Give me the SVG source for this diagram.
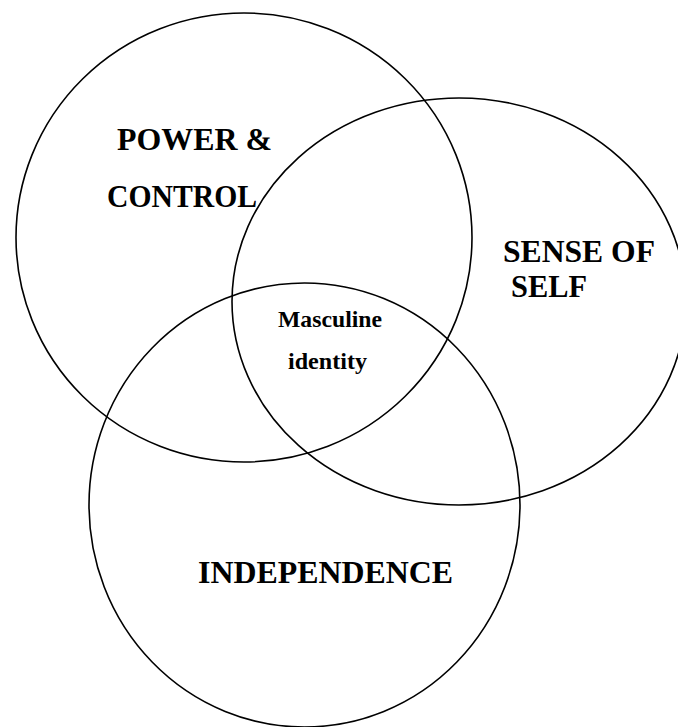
<svg xmlns="http://www.w3.org/2000/svg" width="678" height="727" viewBox="0 0 678 727">
  <style>
    .ring { fill: none; stroke: #000; stroke-width: 1.6; }
    .big { font-family: "Liberation Serif", "Times New Roman", serif; font-weight: bold; font-size: 32px; fill: #000; }
    .core { font-family: "Liberation Serif", "Times New Roman", serif; font-weight: bold; font-size: 23px; fill: #000; }
  </style>
  <rect width="678" height="727" fill="#fff"/>

  <g id="power-control">
    <ellipse class="ring" cx="244" cy="237.5" rx="228" ry="224.5"/>
    <text class="big" x="117" y="150" textLength="155" lengthAdjust="spacingAndGlyphs">POWER &amp;</text>
    <text class="big" x="107" y="207" textLength="150" lengthAdjust="spacingAndGlyphs">CONTROL</text>
  </g>

  <g id="sense-of-self">
    <ellipse class="ring" cx="459" cy="301.5" rx="227" ry="203.5"/>
    <text class="big" x="503" y="262" textLength="152" lengthAdjust="spacingAndGlyphs">SENSE OF</text>
    <text class="big" x="511" y="297" textLength="76" lengthAdjust="spacingAndGlyphs">SELF</text>
  </g>

  <g id="independence">
    <ellipse class="ring" cx="304.5" cy="505" rx="215.5" ry="222"/>
    <text class="big" x="198" y="583" textLength="255" lengthAdjust="spacingAndGlyphs">INDEPENDENCE</text>
  </g>

  <g id="masculine-identity">
    <text class="core" x="278" y="327" textLength="104" lengthAdjust="spacingAndGlyphs">Masculine</text>
    <text class="core" x="288" y="369" textLength="79" lengthAdjust="spacingAndGlyphs">identity</text>
  </g>
</svg>
